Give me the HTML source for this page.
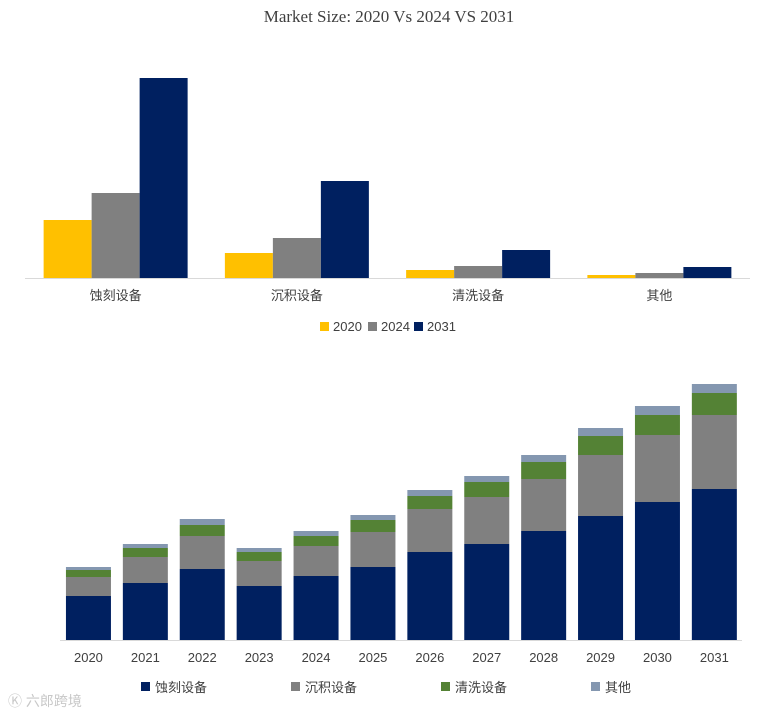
<!DOCTYPE html>
<html><head><meta charset="utf-8"><style>
body{margin:0;background:#fff;width:779px;height:716px;overflow:hidden;font-family:"Liberation Sans","Noto Sans CJK SC",sans-serif}
svg text{font-family:"Liberation Sans","Noto Sans CJK SC",sans-serif}
</style></head><body>
<svg id="c" width="779" height="716">
<text x="389" y="22" text-anchor="middle" font-size="17" fill="#404040" style="font-family:'Liberation Serif','Noto Serif CJK SC',serif">Market Size: 2020 Vs 2024 VS 2031</text>
<line x1="25" y1="278.5" x2="750" y2="278.5" stroke="#d9d9d9"/>
<line x1="60" y1="640.5" x2="742" y2="640.5" stroke="#d9d9d9"/>
<g id="top"></g><g id="bot"></g>
<text x="8" y="706" font-size="14" fill="#c8c8c8">Ⓚ 六郎跨境</text>
</svg>
<script>
const topCats=["蚀刻设备","沉积设备","清洗设备","其他"];
const topYears=["2020","2024","2031"];
const v2020=[58,25,8,3];
const v2024=[85,40,12,5];
const v2031=[200,97,28,11];
const topColors=["#FFC000","#808080","#002060"];
const yearCats=["2020","2021","2022","2023","2024","2025","2026","2027","2028","2029","2030","2031"];
const segNames=["蚀刻设备","沉积设备","清洗设备","其他"];
const sEtch=[44,57,71,54,64,73,88,96,109,124,138,151];
const sDep=[19,26,33,25,30,35,43,47,52,61,67,74];
const sClean=[7,9,11,9,10,12,13,15,17,19,20,22];
const sOther=[3,4,6,4,5,5,6,6,7,8,9,9];
const segColors=["#002060","#808080","#548235","#8497B0"];
const NS="http://www.w3.org/2000/svg";
function mk(t,a,p){const e=document.createElementNS(NS,t);for(const k in a)e.setAttribute(k,a[k]);p.appendChild(e);return e;}
const T=document.getElementById('top'),B=document.getElementById('bot');
// top chart
const tBase=278,tScale=1.0,gx0=25,gw=181.25,bw=48;
const ty=v=>tBase-v*tScale;
const series=[v2020,v2024,v2031];
topCats.forEach((c,i)=>{
 const cx=gx0+gw*i+gw/2;
 series.forEach((s,j)=>{
  const r=mk('rect',{x:cx-bw*1.5+bw*j,y:ty(s[i]),width:bw,height:tBase-ty(s[i]),fill:topColors[j]},T);
  
  
 });
 const t=mk('text',{x:cx,y:300,'text-anchor':'middle','font-size':13,fill:'#404040'},T);t.textContent=c;
 
 
});
const lx=[320,368,414];
topYears.forEach((y,j)=>{
 const r=mk('rect',{x:lx[j],y:322,width:9,height:9,fill:topColors[j]},T);
 
 
 const t=mk('text',{x:lx[j]+13,y:331,'font-size':13,fill:'#404040'},T);t.textContent=y;
 
 
});
// bottom chart
const bBase=640,bScale=1.0,bx0=60,cw=56.9,sw=45;
const segs=[sEtch,sDep,sClean,sOther];
yearCats.forEach((y,i)=>{
 const cx=bx0+cw*i+cw/2;let acc=0;
 segs.forEach((s,k)=>{
  const h=s[i]*bScale;
  const r=mk('rect',{x:cx-sw/2,y:bBase-acc-h,width:sw,height:h,fill:segColors[k]},B);
  
  
  acc+=h;
 });
 const t=mk('text',{x:cx,y:662,'text-anchor':'middle','font-size':13,fill:'#404040'},B);t.textContent=y;
 
 
});
const blx=[141,291,441,591];
segNames.forEach((n,k)=>{
 const r=mk('rect',{x:blx[k],y:682,width:9,height:9,fill:segColors[k]},B);
 
 
 const t=mk('text',{x:blx[k]+14,y:692,'font-size':13,fill:'#404040'},B);t.textContent=n;
 
 
});
</script>
</body></html>
